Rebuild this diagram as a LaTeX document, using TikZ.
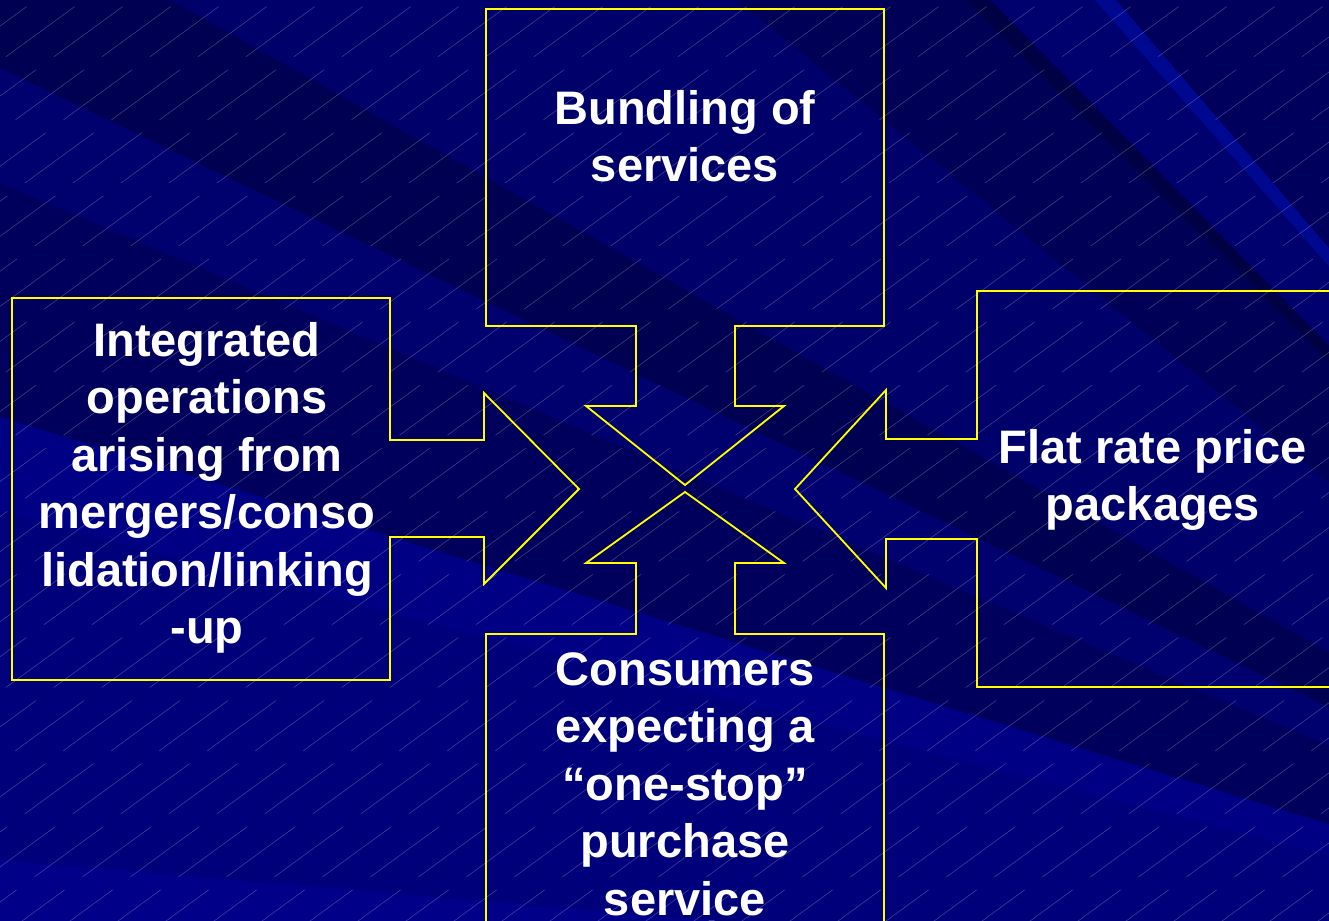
\documentclass[tikz,border=0pt]{standalone}
\usepackage{fontspec}
\setmainfont{Liberation Sans}
\usetikzlibrary{calc}
\definecolor{bgbase}{HTML}{000078}
\definecolor{bgA}{HTML}{00005C}
\definecolor{bgB}{HTML}{000890}
\definecolor{bgC}{HTML}{00006E}
\definecolor{bgD}{HTML}{000044}
\definecolor{bgE}{HTML}{000056}
\definecolor{bgF}{HTML}{00006A}
\definecolor{bgG}{HTML}{000052}
\definecolor{bgH}{HTML}{00006E}
\definecolor{bgI}{HTML}{00005C}
\definecolor{bgJ}{HTML}{000084}
\definecolor{bgK}{HTML}{00007A}
\definecolor{bgL}{HTML}{000088}
\definecolor{calloutyellow}{HTML}{FFFF00}
\tikzset{
	callout/.style={draw=calloutyellow, line width=1.8pt, line join=miter},
	hatch/.style={draw=white, opacity=0.27, line width=0.5pt, dash pattern=on 85pt off 22pt},
	boxtext/.style={text=white, align=center, inner sep=0pt,
		font=\fontsize{47}{57.5}\selectfont\bfseries}
}

\begin{document}
\begin{tikzpicture}[x=1pt,y=-1pt]
\clip (0,0) rectangle (1329,920);
\fill[bgbase] (0,0) rectangle (1329,920);

% background rays
\coordinate (F) at (2000,1030);
\foreach \ya/\yb/\c in {-3000/-1300/bgA, -1300/-1245/bgB, -1245/-1010/bgC,
	-1010/-960/bgD, -960/-600/bgE, -600/-96/bgF, -96/68/bgG, 68/183/bgH,
	183/417/bgI, 417/512/bgJ, 512/860/bgK, 860/3000/bgL}
	\fill[\c] (F) -- ($(F)!3!(0,\ya)$) -- ($(F)!3!(0,\yb)$) -- cycle;
\foreach \i in {-1300,-1252,...,1400}
	\draw[hatch] (\i,940) -- ++(1300,-949);

% the four callouts
\draw[callout] (486,9) -- (884,9) -- (884,326) -- (735,326) -- (735,406) -- (784,406)
	-- (685,485) -- (586,406) -- (636,406) -- (636,326) -- (486,326) -- cycle;
\draw[callout] (12,298) -- (390,298) -- (390,440) -- (484,440) -- (484,393) -- (579,489)
	-- (484,584) -- (484,537) -- (390,537) -- (390,680) -- (12,680) -- cycle;
\draw[callout] (1345,291) -- (977,291) -- (977,439) -- (886,439) -- (886,390) -- (795,489)
	-- (886,588) -- (886,539) -- (977,539) -- (977,687) -- (1345,687) -- cycle;
\draw[callout] (486,935) -- (486,634) -- (636,634) -- (636,563) -- (586,563) -- (685,492)
	-- (784,563) -- (735,563) -- (735,634) -- (884,634) -- (884,935) -- cycle;

\node[boxtext] (bundling) at (685,136) {Bundling of\\services};
\node[boxtext] (integrated) at (207,488) {Integrated\\operations\\arising from\\mergers/conso\\lidation/linking\\-up};
\node[boxtext] (flatrate) at (1153,480) {Flat rate price\\packages};
\node[boxtext] (consumers) at (685,784) {Consumers\\expecting a\\“one-stop”\\purchase\\service};
\end{tikzpicture}
\end{document}
